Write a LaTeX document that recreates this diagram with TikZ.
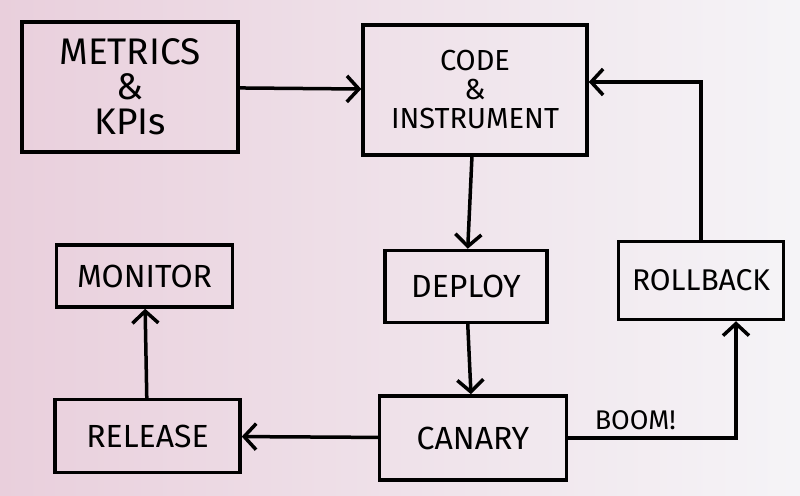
\documentclass[tikz,border=0pt]{standalone}
\usepackage{fontspec}
\setmainfont{Fira Sans}
\usetikzlibrary{
	arrows.meta,
	positioning
}
\definecolor{paperpink}{RGB}{233,207,220}
\definecolor{paperwhite}{RGB}{245,244,247}

\begin{document}
\begin{tikzpicture}[
				x=1pt, y=1pt,
				box/.style={
					rectangle, draw, line width=3.5pt,
					minimum width=175pt, minimum height=72pt,
					inner sep=0pt, align=center,
					font=\fontsize{32}{36}\selectfont
				},
				bigbox/.style={
					box, minimum width=216pt, minimum height=130pt
				},
				arrow/.style={-{Straight Barb[length=12pt,width=26pt]}, line width=3.5pt, line cap=round},
				label/.style={font=\fontsize{27}{30}\selectfont}
				]
				
				% paper
				\shade[left color=paperpink, right color=paperwhite] (0,0) rectangle (800,495);
				\useasboundingbox (0,0) rectangle (800,495);
				
				%first set
				\node[bigbox, font=\fontsize{37}{35}\selectfont] (metrics) at (130,408) {METRICS\\\&\\KPIs};
				
				\node (code) at (metrics) [bigbox, minimum width=224pt, font=\fontsize{29}{29}\selectfont, xshift=345pt, yshift=-3pt] {CODE\\\&\\INSTRUMENT};
				\draw [arrow] (metrics) -- (code);
				
				%2. set
				\node[box, minimum width=162pt, below=92pt of code, xshift=-9pt] (deploy) {DEPLOY};
				\draw [arrow] (code) -- (deploy);
				
				\node[box, minimum width=165pt, minimum height=78pt, right=68pt of deploy, yshift=6pt, font=\fontsize{30}{36}\selectfont] (rollback) {ROLLBACK};
				
				%3. set
				\node[box, minimum width=187pt, minimum height=84pt, below=70pt of deploy, xshift=7pt] (canary) {CANARY};
				\draw [arrow] (deploy) -- (canary);
				
				\node[box, minimum width=185pt, minimum height=73pt, left=136pt of canary, yshift=2pt] (release) {RELEASE};
				\draw [arrow] (canary) -- (release);
				
				%4. set
				\node[box, minimum width=176pt, minimum height=62pt, above=89pt of release, xshift=-3pt] (monitor) {MONITOR};
				\draw [arrow] (release) -- (monitor);
				
				%back loop
				\draw [arrow] (canary.east) -| node[label, pos=0.2, above=3pt] (boom) {BOOM!} ([xshift=35pt]rollback.south);
				\draw [arrow] (rollback.north) |- ([yshift=8pt]code.east);
			\end{tikzpicture}
\end{document}
